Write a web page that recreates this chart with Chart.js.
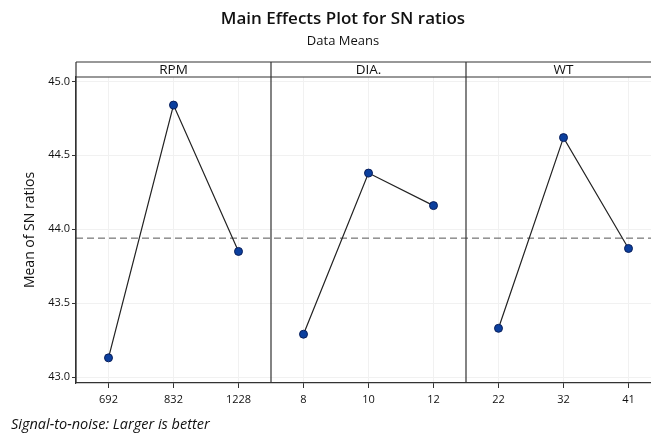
<!DOCTYPE html>
<html>
<head>
<meta charset="utf-8">
<script src="https://cdn.jsdelivr.net/npm/chart.js@4"></script>
<style>
  html, body { margin: 0; padding: 0; background: #fff; overflow: hidden; width: 651px; height: 435px; }
  #wrap { position: relative; width: 686px; height: 435px; }
  canvas { position: absolute; left: 0; top: 0; }
  .txt { position: absolute; font-family: "Open Sans", "Noto Sans", sans-serif; color: #111; white-space: nowrap; }
  #title { left: 0; width: 686px; top: 6px; text-align: center; font-size: 17px; font-weight: 600; }
  #subtitle { left: 0; width: 686px; top: 31px; text-align: center; font-size: 13px; }
  #note { left: 11px; top: 414px; font-size: 14.5px; font-style: italic; }
</style>
</head>
<body>
<div id="wrap">
  <canvas id="chart" width="686" height="435"></canvas>
  <div id="title" class="txt">Main Effects Plot for SN ratios</div>
  <div id="subtitle" class="txt">Data Means</div>
  <div id="note" class="txt">Signal-to-noise: Larger is better</div>
</div>
<script>
// Dane (średnie SN dla każdego poziomu)
const factors = ["RPM", "DIA.", "WT"];
const levels = ["692", "832", "1228", "8", "10", "12", "22", "32", "41"];
const rpmMeans = [43.13, 44.84, 43.85];
const diaMeans = [43.29, 44.38, 44.16];
const wtMeans = [43.33, 44.62, 43.87];
const overallMean = 43.94;
const yTicks = [43.0, 43.5, 44.0, 44.5, 45.0];

const FONT = "'Open Sans', 'Noto Sans', sans-serif";

/**
 * Rozkłada wartości jednego czynnika na jego panel (reszta null).
 */
function panelData(values, panel) {
    const out = levels.map(() => null);
    values.forEach((v, i) => { out[panel * 3 + i] = v; });
    return out;
}

function seriesStyle(values, panel) {
    return {
        data: panelData(values, panel),
        borderColor: "#222",
        borderWidth: 1.2,
        pointRadius: 4,
        pointBackgroundColor: "#0b3f9e",
        pointBorderColor: "#0a1f5a",
        pointBorderWidth: 1,
        spanGaps: false,
        tension: 0
    };
}

// Nagłówki paneli, linie podziału i linia średniej
const panelPlugin = {
    id: "panels",
    beforeDatasetsDraw(chart) {
        const { ctx, chartArea, scales } = chart;
        const yMean = scales.y.getPixelForValue(overallMean);
        ctx.save();
        ctx.strokeStyle = "#555";
        ctx.lineWidth = 1;
        ctx.setLineDash([7, 4]);
        ctx.beginPath();
        ctx.moveTo(chartArea.left, yMean);
        ctx.lineTo(chartArea.right, yMean);
        ctx.stroke();
        ctx.restore();
    },
    afterDraw(chart) {
        const { ctx, chartArea, scales } = chart;
        const x = scales.x;
        const headTop = chartArea.top - 15;
        const bounds = [chartArea.left];
        for (let k = 1; k < factors.length; k++)
            bounds.push((x.getPixelForValue(k * 3 - 1) + x.getPixelForValue(k * 3)) / 2);
        bounds.push(chartArea.right);

        ctx.save();
        ctx.strokeStyle = "#333";
        ctx.lineWidth = 1.2;
        ctx.beginPath();
        ctx.moveTo(chartArea.left, headTop);
        ctx.lineTo(chartArea.right, headTop);
        ctx.moveTo(chartArea.left, chartArea.top);
        ctx.lineTo(chartArea.right, chartArea.top);
        ctx.moveTo(chartArea.left, headTop);
        ctx.lineTo(chartArea.left, chartArea.bottom);
        for (let k = 1; k < bounds.length; k++) {
            ctx.moveTo(bounds[k], headTop);
            ctx.lineTo(bounds[k], chartArea.bottom);
        }
        ctx.stroke();

        ctx.fillStyle = "#111";
        ctx.font = "13.5px " + FONT;
        ctx.textAlign = "center";
        ctx.textBaseline = "middle";
        factors.forEach((f, i) => {
            ctx.fillText(f, (bounds[i] + bounds[i + 1]) / 2, headTop + 8);
        });
        ctx.restore();
    }
};

new Chart(document.getElementById("chart"), {
    type: "line",
    data: {
        labels: levels,
        datasets: [seriesStyle(rpmMeans, 0), seriesStyle(diaMeans, 1), seriesStyle(wtMeans, 2)]
    },
    options: {
        responsive: false,
        animation: false,
        layout: { padding: { top: 77, right: 25, left: 0, bottom: 0 } },
        plugins: { legend: { display: false }, tooltip: { enabled: false } },
        scales: {
            x: {
                offset: true,
                grid: { offset: false, color: "#f1f1f1", tickColor: "#333", tickLength: 5, drawOnChartArea: true },
                border: { display: true, color: "#333", width: 1.2 },
                ticks: { color: "#111", font: { family: FONT, size: 11 }, padding: 5, maxRotation: 0, autoSkip: false },
                afterFit(s) { s.height = 52; }
            },
            y: {
                min: 42.96,
                max: 45.03,
                afterBuildTicks(s) { s.ticks = yTicks.map(v => ({ value: v })); },
                grid: { color: "#f1f1f1", tickColor: "#333", tickLength: 4 },
                border: { display: true, color: "#333", width: 1.2 },
                ticks: { color: "#111", font: { family: FONT, size: 11 }, padding: 2, callback: v => Number(v).toFixed(1) },
                title: { display: true, text: "Mean of SN ratios", color: "#111", font: { family: FONT, size: 14 }, padding: { top: 22, bottom: 0 } },
                afterFit(s) { s.width = 76; }
            }
        }
    },
    plugins: [panelPlugin]
});
</script>
</body>
</html>
